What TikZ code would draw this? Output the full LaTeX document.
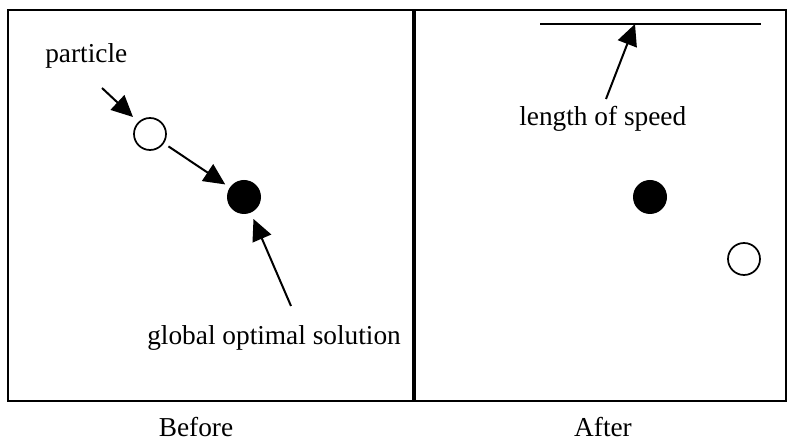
\documentclass[tikz,border=0pt]{standalone}
\usepackage{fontspec}
\setmainfont{Liberation Serif}
\usetikzlibrary{arrows.meta}
\tikzset{
    pframe/.style={draw=black, line width=1.6pt},
    psep/.style={draw=black, line width=3.4pt},
    pold/.style={circle, draw=black, line width=1.3pt, fill=white, minimum size=24pt, inner sep=0pt},
    pbest/.style={circle, fill=black, minimum size=25.5pt, inner sep=0pt},
    plabel/.style={font=\fontsize{20.5}{24}\selectfont, inner sep=0pt},
    parr/.style={-{Triangle[length=16pt, width=15pt]}, line width=1.5pt, black},
}

\begin{document}
\begin{tikzpicture}[x=0.75pt, y=-0.75pt]
    \useasboundingbox (0,0) rectangle (794,441);

    % frames
    \draw [pframe] (8,10) rectangle (786,401);
    \draw [psep] (414,10) -- (414,401);

    % before
    \node [plabel, anchor=base west] (ptext) at (45,63) {particle};
    \node [pold] (p1) at (150,134) {};
    \node [pbest] (g1) at (244,197) {};
    \node [plabel, anchor=base west] (gtext) at (147,345) {global optimal solution};
    \node [plabel, anchor=base] (before) at (196,437) {Before};
    \coordinate (ptail) at (102,88);
    \coordinate (gtail) at (291,306);

    \draw [parr] (ptail) -- (133,117);
    \draw [parr, shorten <=4pt, shorten >=4pt] (p1) -- (g1);
    \draw [parr, shorten >=5pt] (gtail) -- (g1);

    % after
    \coordinate (sleft) at (540,24);
    \coordinate (sright) at (761,24);
    \coordinate (stip) at (635,24);
    \coordinate (stail) at (606,99);
    \node [plabel, anchor=base west] (stext) at (519,126) {length of speed};
    \node [pbest] (g2) at (650,197) {};
    \node [pold] (p2) at (744,259) {};
    \node [plabel, anchor=base] (after) at (603,437) {After};

    \draw [line width=1.4pt] (sleft) -- (sright);
    \draw [parr] (stail) -- (stip);

\end{tikzpicture}
\end{document}
